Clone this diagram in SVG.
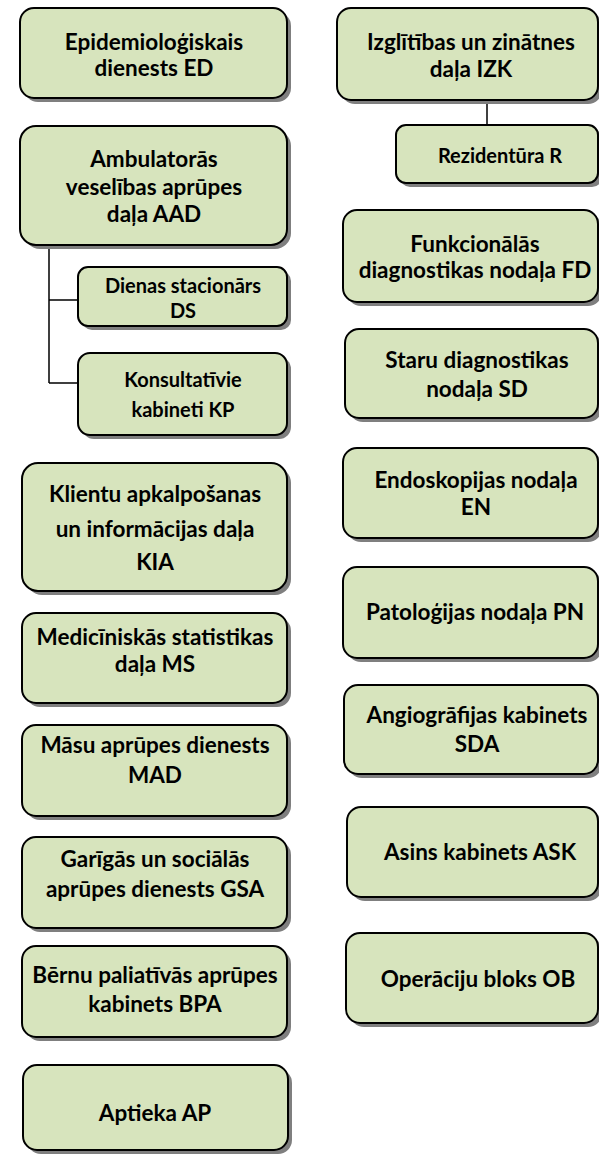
<svg xmlns="http://www.w3.org/2000/svg" width="599" height="1154" viewBox="0 0 599 1154">
<defs>
<style>
.box{fill:#d7e4bd;stroke:#000;stroke-width:2}
.sh{fill:#7f7f7f}
.t{font-family:Lato,"Liberation Sans",sans-serif;font-weight:bold;font-size:22.5px;fill:#000;text-anchor:middle}
.s{font-size:20px}
.c{stroke:#000;stroke-width:1.5;fill:none}
</style>
</defs>
<rect width="599" height="1154" fill="#fff"/>
<g id="connectors">
<path class="c" d="M49 245 V383 M49 300 H78 M49 383 H78"/>
<path class="c" d="M487 100 V125"/>
</g>
<g id="ED"><rect class="sh" x="24" y="12" width="267" height="90" rx="14"/><rect class="box" x="20" y="8" width="267" height="90" rx="14"/>
<text class="t" x="154" y="50">Epidemioloģiskais</text><text class="t" x="154" y="76">dienests ED</text></g>
<g id="AAD"><rect class="sh" x="24" y="130" width="267" height="119" rx="16"/><rect class="box" x="20" y="126" width="267" height="119" rx="16"/>
<text class="t" x="154" y="167">Ambulatorās</text><text class="t" x="154" y="195">veselības aprūpes</text><text class="t" x="154" y="222">daļa AAD</text></g>
<g id="DS"><rect class="sh" x="82" y="271" width="209" height="59" rx="10"/><rect class="box" x="78" y="267" width="209" height="59" rx="10"/>
<text class="t s" x="183" y="293">Dienas stacionārs</text><text class="t s" x="183" y="318">DS</text></g>
<g id="KP"><rect class="sh" x="82" y="357" width="209" height="82" rx="12"/><rect class="box" x="78" y="353" width="209" height="82" rx="12"/>
<text class="t s" x="183" y="387">Konsultatīvie</text><text class="t s" x="183" y="417">kabineti KP</text></g>
<g id="KIA"><rect class="sh" x="26" y="467" width="265" height="128" rx="16"/><rect class="box" x="22" y="463" width="265" height="128" rx="16"/>
<text class="t" x="155" y="502">Klientu apkalpošanas</text><text class="t" x="155" y="537">un informācijas daļa</text><text class="t" x="155" y="570">KIA</text></g>
<g id="MS"><rect class="sh" x="26" y="617" width="265" height="90" rx="14"/><rect class="box" x="22" y="613" width="265" height="90" rx="14"/>
<text class="t" x="155" y="645">Medicīniskās statistikas</text><text class="t" x="155" y="672">daļa MS</text></g>
<g id="MAD"><rect class="sh" x="26" y="729" width="265" height="91" rx="14"/><rect class="box" x="22" y="725" width="265" height="91" rx="14"/>
<text class="t" x="155" y="753">Māsu aprūpes dienests</text><text class="t" x="155" y="783">MAD</text></g>
<g id="GSA"><rect class="sh" x="26" y="841" width="265" height="91" rx="14"/><rect class="box" x="22" y="837" width="265" height="91" rx="14"/>
<text class="t" x="155" y="867">Garīgās un sociālās</text><text class="t" x="155" y="897">aprūpes dienests GSA</text></g>
<g id="BPA"><rect class="sh" x="26" y="950" width="265" height="91" rx="14"/><rect class="box" x="22" y="946" width="265" height="91" rx="14"/>
<text class="t" x="155" y="983">Bērnu paliatīvās aprūpes</text><text class="t" x="155" y="1012">kabinets BPA</text></g>
<g id="AP"><rect class="sh" x="27" y="1069" width="265" height="85" rx="14"/><rect class="box" x="23" y="1065" width="265" height="85" rx="14"/>
<text class="t" x="155" y="1121">Aptieka AP</text></g>
<g id="IZK"><rect class="sh" x="341" y="12" width="261" height="92" rx="14"/><rect class="box" x="337" y="8" width="261" height="92" rx="14"/>
<text class="t" x="471" y="50">Izglītības un zinātnes</text><text class="t" x="471" y="77">daļa IZK</text></g>
<g id="R"><rect class="sh" x="400" y="129" width="202" height="58" rx="10"/><rect class="box" x="396" y="125" width="202" height="58" rx="10"/>
<text class="t s" x="500" y="163">Rezidentūra R</text></g>
<g id="FD"><rect class="sh" x="347" y="214" width="255" height="92" rx="14"/><rect class="box" x="343" y="210" width="255" height="92" rx="14"/>
<text class="t" x="475" y="252">Funkcionālās</text><text class="t" x="475" y="278">diagnostikas nodaļa FD</text></g>
<g id="SD"><rect class="sh" x="349" y="333" width="253" height="89" rx="14"/><rect class="box" x="345" y="329" width="253" height="89" rx="14"/>
<text class="t" x="477" y="368">Staru diagnostikas</text><text class="t" x="477" y="397">nodaļa SD</text></g>
<g id="EN"><rect class="sh" x="347" y="452" width="255" height="90" rx="14"/><rect class="box" x="343" y="448" width="255" height="90" rx="14"/>
<text class="t" x="476" y="488">Endoskopijas nodaļa</text><text class="t" x="476" y="515">EN</text></g>
<g id="PN"><rect class="sh" x="347" y="571" width="255" height="91" rx="14"/><rect class="box" x="343" y="567" width="255" height="91" rx="14"/>
<text class="t" x="475" y="620">Patoloģijas nodaļa PN</text></g>
<g id="SDA"><rect class="sh" x="348" y="689" width="254" height="89" rx="14"/><rect class="box" x="344" y="685" width="254" height="89" rx="14"/>
<text class="t" x="477" y="723">Angiogrāfijas kabinets</text><text class="t" x="477" y="752">SDA</text></g>
<g id="ASK"><rect class="sh" x="351" y="811" width="251" height="90" rx="14"/><rect class="box" x="347" y="807" width="251" height="90" rx="14"/>
<text class="t" x="480" y="860">Asins kabinets ASK</text></g>
<g id="OB"><rect class="sh" x="350" y="937" width="252" height="90" rx="14"/><rect class="box" x="346" y="933" width="252" height="90" rx="14"/>
<text class="t" x="478" y="987">Operāciju bloks OB</text></g>
</svg>
